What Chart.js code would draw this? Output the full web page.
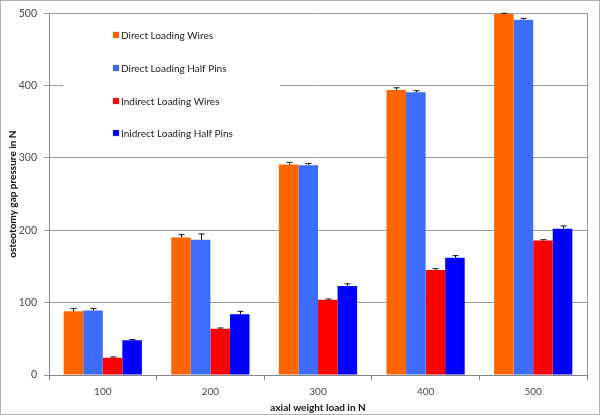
<!DOCTYPE html>
<html>
<head>
<meta charset="utf-8">
<script src="https://cdn.jsdelivr.net/npm/chart.js@4.4.0/dist/chart.umd.min.js"></script>
<style>
    html, body { margin: 0; padding: 0; background: #fff; }
    #wrap { width: 600px; height: 415px; }
</style>
</head>
<body>
<div id="wrap"><canvas id="gap-chart" width="600" height="415"></canvas></div>
<script>
const loads = ['100', '200', '300', '400', '500'];
const seriesNames = ['Direct Loading Wires', 'Direct Loading Half Pins', 'Indirect Loading Wires', 'Inidrect Loading Half Pins'];
const directWires = [88, 190, 291, 394, 499];
const directHalfPins = [89, 187, 290, 391, 491];
const indirectWires = [24, 64, 104, 145, 186];
const indirectHalfPins = [48, 84, 123, 162, 202];
const directWiresErr = [4, 4, 3, 3, 1];
const directHalfPinsErr = [3, 8, 2.5, 2, 2];
const indirectWiresErr = [1, 1, 1, 2, 1];
const indirectHalfPinsErr = [1, 4, 3, 3, 4];
const yTicks = [0, 100, 200, 300, 400, 500];

const colors = ['#ff6600', '#3d6dff', '#ff0000', '#0000ff'];
const fontFamily = 'Lato, "Open Sans", sans-serif';

// white legend box drawn over the grid, plus plot frame
const legendBox = {
    id: 'legendBox',
    beforeDatasetsDraw(chart) {
        const ctx = chart.ctx;
        const area = chart.chartArea;
        ctx.save();
        ctx.fillStyle = '#fff';
        ctx.fillRect(63, area.top + 1, 217, 142);
        ctx.strokeStyle = '#9a9a9a';
        ctx.lineWidth = 1;
        ctx.beginPath();
        ctx.moveTo(Math.round(area.right) + 0.5, area.top);
        ctx.lineTo(Math.round(area.right) + 0.5, area.bottom);
        ctx.stroke();
        ctx.restore();
    },
    afterDraw(chart) {
        const ctx = chart.ctx;
        ctx.save();
        const ys = [35, 68, 101, 133];
        chart.data.datasets.forEach((ds, i) => {
            ctx.fillStyle = ds.backgroundColor;
            ctx.fillRect(113, ys[i] - 3, 6, 6);
            ctx.strokeStyle = 'rgba(120,120,120,0.6)';
            ctx.lineWidth = 0.5;
            ctx.strokeRect(113, ys[i] - 3, 6, 6);
            ctx.fillStyle = '#222';
            ctx.font = '10px ' + fontFamily;
            ctx.textBaseline = 'middle';
            ctx.fillText(ds.label, 121, ys[i] + 1);
        });
        // outer frame
        ctx.strokeStyle = '#b0b0b0';
        ctx.lineWidth = 1;
        ctx.strokeRect(0.5, 0.5, 599, 414);
        ctx.restore();
    }
};

// plus error bars
const errorBars = {
    id: 'errorBars',
    afterDatasetsDraw(chart) {
        const ctx = chart.ctx;
        const yScale = chart.scales.y;
        ctx.save();
        ctx.strokeStyle = '#111';
        ctx.lineWidth = 1;
        chart.data.datasets.forEach((ds, i) => {
            const meta = chart.getDatasetMeta(i);
            meta.data.forEach((bar, j) => {
                const top = yScale.getPixelForValue(ds.data[j] + ds.errors[j]);
                const x = Math.round(bar.x) + 0.5;
                ctx.beginPath();
                ctx.moveTo(x, bar.y);
                ctx.lineTo(x, top);
                ctx.moveTo(x - 3, top);
                ctx.lineTo(x + 3, top);
                ctx.stroke();
            });
        });
        ctx.restore();
    }
};

const values = [directWires, directHalfPins, indirectWires, indirectHalfPins];
const errors = [directWiresErr, directHalfPinsErr, indirectWiresErr, indirectHalfPinsErr];

new Chart(document.getElementById('gap-chart').getContext('2d'), {
    type: 'bar',
    data: {
        labels: loads,
        datasets: seriesNames.map((name, i) => ({
            label: name,
            data: values[i],
            errors: errors[i],
            backgroundColor: colors[i],
            borderWidth: 0,
            categoryPercentage: 0.727,
            barPercentage: 1
        }))
    },
    options: {
        responsive: false,
        animation: false,
        layout: { padding: { left: 0, top: 13, right: 13, bottom: 0 } },
        plugins: {
            legend: { display: false },
            tooltip: { enabled: false }
        },
        scales: {
            x: {
                grid: { display: true, drawOnChartArea: false, offset: true, tickLength: 5, color: '#868686' },
                border: { color: '#868686' },
                ticks: { color: '#4a4a4a', font: { family: fontFamily, size: 10 }, padding: 6 },
                title: { display: true, text: 'axial weight load in N', color: '#111', font: { family: fontFamily, size: 10, weight: 'bold' }, padding: { top: 0, bottom: 1 } },
                afterFit: scale => { scale.height = 40; }
            },
            y: {
                min: 0,
                max: 500,
                afterBuildTicks: scale => { scale.ticks = yTicks.map(v => ({ value: v })); },
                grid: { color: '#9a9a9a', tickLength: 5 },
                border: { color: '#868686' },
                ticks: { color: '#4a4a4a', font: { family: fontFamily, size: 10.5 }, padding: 7 },
                title: { display: true, text: 'osteotomy gap pressure in N', color: '#111', font: { family: fontFamily, size: 10, weight: 'bold' }, padding: { top: 7, bottom: 0 } },
                afterFit: scale => { scale.width = 49; }
            }
        }
    },
    plugins: [legendBox, errorBars]
});
</script>
</body>
</html>
